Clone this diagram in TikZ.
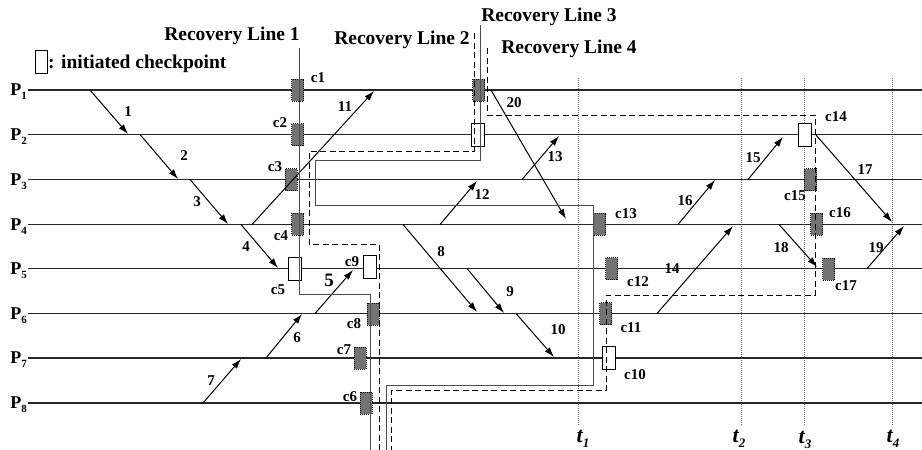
\documentclass[tikz,border=0pt]{standalone}
\usepackage{fontspec}
\setmainfont{Liberation Serif}
\usetikzlibrary{arrows.meta}
\begin{document}
\begin{tikzpicture}[x=1pt,y=-1pt,
  proc/.style={line width=1.2pt, draw=black!85},
  msg/.style={-{Latex[length=10pt,width=6.5pt]}, line width=1pt},
  gcp/.style={draw=black, line width=0.8pt, dash pattern=on 1pt off 1pt, fill=black!55, minimum width=12pt, minimum height=22pt, inner sep=0pt},
  wcp/.style={draw=black, line width=1pt, fill=white, minimum width=13pt, minimum height=23pt, inner sep=0pt},
  rlsolid/.style={draw=black!70, line width=1pt},
  rldash/.style={draw=black, line width=0.9pt, dash pattern=on 6pt off 3.5pt},
  tline/.style={draw=black!60, line width=0.6pt, dash pattern=on 1pt off 1pt},
  lbl/.style={font=\bfseries\fontsize{15}{15}\selectfont, inner sep=0pt},
  biglbl/.style={font=\bfseries\fontsize{19.5}{20}\selectfont, inner sep=0pt},
  plbl/.style={font=\bfseries\fontsize{18}{18}\selectfont, inner sep=0pt},
  tlbl/.style={font=\bfseries\itshape\fontsize{22}{22}\selectfont, inner sep=0pt}]
\useasboundingbox (0,0) rectangle (922,450);

% time lines
\foreach \i/\x in {1/578,2/741,3/804,4/892}{
  \coordinate (tt\i) at (\x,78);
  \coordinate (tb\i) at (\x,425);
  \draw[tline] (tt\i) -- (tb\i);
}
\node[tlbl] (T1) at (583,439) {t\raisebox{-0.45ex}{\fontsize{13}{13}\selectfont 1}};
\node[tlbl] (T2) at (739,439) {t\raisebox{-0.45ex}{\fontsize{13}{13}\selectfont 2}};
\node[tlbl] (T3) at (805,440) {t\raisebox{-0.45ex}{\fontsize{13}{13}\selectfont 3}};
\node[tlbl] (T4) at (893,439) {t\raisebox{-0.45ex}{\fontsize{13}{13}\selectfont 4}};

% process lines
\foreach \i/\y in {1/90,2/134.5,3/179.5,4/224.5,5/268.5,6/313.5,7/358,8/403}{
  \node[plbl, anchor=east] (P\i) at (27,\y+2) {P\raisebox{-0.5ex}{\fontsize{11}{11}\selectfont\i}};
  \coordinate (S\i) at (28,\y);
  \coordinate (E\i) at (922,\y);
  \draw[proc] (S\i) -- (E\i);
}

% checkpoints
\node[gcp] (c1) at (297.5,90) {};
\node[gcp] (c2) at (297.5,134.5) {};
\node[gcp] (c3) at (291,179.5) {};
\node[gcp] (c4) at (297.5,224) {};
\node[wcp] (c5) at (295,268.5) {};
\node[gcp] (c6) at (366,403) {};
\node[gcp] (c7) at (360,358) {};
\node[gcp] (c8) at (373,314) {};
\node[wcp] (c9) at (369.5,266.5) {};
\node[wcp] (c10) at (609,357.5) {};
\node[gcp] (c11) at (605.5,313.5) {};
\node[gcp] (c12) at (611.5,268.5) {};
\node[gcp] (c13) at (599.5,224) {};
\node[wcp] (c14) at (804.5,134.5) {};
\node[gcp] (c15) at (810.5,179.5) {};
\node[gcp] (c16) at (816.5,224) {};
\node[gcp] (c17) at (828.5,269) {};
\node[gcp] (ca) at (478.5,90) {};
\node[wcp] (cb) at (478,135) {};

% checkpoint labels
\foreach \n/\x/\y in {1/318/78,2/280/123,3/275/167,4/281/236,5/278/290,6/350/397,7/344/350,8/354/324,9/352/262,10/635/375,11/631/328,12/638/282,13/626/214,14/836/117,15/795/196,16/840/213,17/846/286}{
  \node[lbl] (lc\n) at (\x,\y) {c\n};
}

% messages
\foreach \n/\a/\b/\c/\d in {1/90/90/128/134, 2/140/134.5/178/179, 3/190/179.5/228/224, 4/241/224.5/278/268,
  11/252/224.5/374/91, 6/266/358/302/314, 7/203/403/241/359, 5/315/313.5/353/270,
  8/403/224.5/477/312, 9/467/268.5/504/313, 10/516/313.5/554/357, 12/440/224.5/477/181,
  13/522/179.5/559/136, 20/491/90/566/219, 14/657/313.5/733/226, 15/748/179.5/783/137,
  16/678/224.5/715/180, 17/816/135/892/222, 18/779/224.5/817/267, 19/867/268.5/904/226}{
  \coordinate (m\n s) at (\a,\b);
  \coordinate (m\n e) at (\c,\d);
  \draw[msg] (m\n s) -- (m\n e);
}
% message labels
\foreach \n/\x/\y in {1/128/112,2/184/156,3/197/202,4/246/247,11/345/107,6/297/338,7/211/381,
  8/441/252,9/510/292,10/558/330,12/482/195,13/555/157,20/514/103,14/672/269,15/753/158,
  16/685/201,17/865/170,18/781/248,19/876/248}{
  \node[lbl] (lm\n) at (\x,\y) {\n};
}
\node[lbl, font=\bfseries\fontsize{19}{19}\selectfont] (lm5) at (329,280) {5};

% recovery lines
\coordinate (r1) at (299,48);
\draw[rlsolid] (r1) -- (299,294) -- (370,294) -- (370,450);
\coordinate (r2) at (474,33);
\draw[rldash] (r2) -- (474,151) -- (309,151) -- (309,244) -- (379,244) -- (379,450);
\coordinate (r3) at (480,25);
\draw[rlsolid] (r3) -- (480,160) -- (315,160) -- (315,205) -- (593,205) -- (593,385) -- (386,385) -- (386,450);
\coordinate (r4) at (487,48);
\draw[rldash] (r4) -- (487,115) -- (815,115) -- (815,295) -- (606,295) -- (606,390) -- (391,390) -- (391,450);

\node[biglbl, anchor=base] (RL1) at (232,40) {Recovery Line 1};
\node[biglbl, anchor=base] (RL2) at (402,44) {Recovery Line 2};
\node[biglbl, anchor=base] (RL3) at (549,21) {Recovery Line 3};
\node[biglbl, anchor=base] (RL4) at (569,53) {Recovery Line 4};

% legend
\node[wcp, minimum width=12pt, minimum height=23pt] (leg) at (41,61.5) {};
\node[biglbl, anchor=base west] (legt) at (48,68) {: initiated checkpoint};
\end{tikzpicture}
\end{document}
